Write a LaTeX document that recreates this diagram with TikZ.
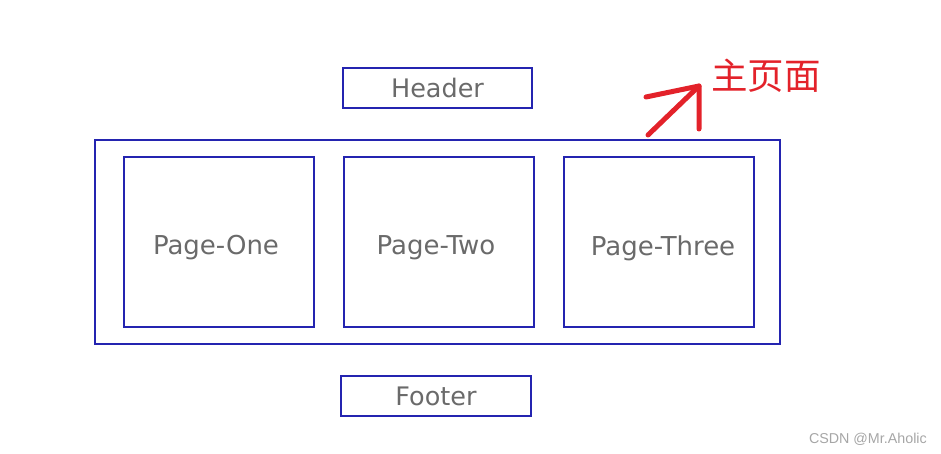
\documentclass[tikz,border=0pt]{standalone}
\usepackage{fontspec}
\setmainfont{DejaVu Sans}
\newfontfamily\cjk{Noto Sans CJK SC}
\newfontfamily\wm{Liberation Sans}
\definecolor{boxblue}{HTML}{2424B0}
\definecolor{txtgray}{HTML}{6A6A6A}
\definecolor{penred}{HTML}{E3222A}
\begin{document}
\begin{tikzpicture}[x=1pt,y=-1pt,
  bluebox/.style={draw=boxblue,line width=2.4pt,inner sep=0pt,text=txtgray,font=\fontsize{25.5}{28}\selectfont},
  pagetext/.style={inner sep=0pt,text=txtgray,font=\fontsize{26}{28}\selectfont},
  redpen/.style={draw=penred,line width=5pt,line cap=round,line join=round}]
\useasboundingbox (0,0) rectangle (941,454);
\node[bluebox,minimum width=189pt,minimum height=40pt] (header) at (437.5,88) {Header};
\node[bluebox,minimum width=685pt,minimum height=204pt] (outer) at (437.5,242) {};
\node[bluebox,minimum width=190pt,minimum height=170pt] (p1) at (219,242) {};
\node[bluebox,minimum width=190pt,minimum height=170pt] (p2) at (439,242) {};
\node[bluebox,minimum width=190pt,minimum height=170pt] (p3) at (659,242) {};
\node[pagetext] (t1) at ([xshift=-3pt,yshift=-6pt]p1.center) {Page-One};
\node[pagetext] (t2) at ([xshift=-3pt,yshift=-6pt]p2.center) {Page-Two};
\node[pagetext] (t3) at ([xshift=4pt,yshift=-6pt]p3.center) {Page-Three};
\node[bluebox,minimum width=190pt,minimum height=40pt] (footer) at (436,396) {Footer};
\coordinate (tail) at (648,135);
\coordinate (tip) at (699,86);
\coordinate (wl) at (646,97);
\coordinate (wr) at (699,129);
\draw[redpen] (tail) -- (tip);
\draw[redpen] (wl) -- (tip) -- (wr);
\node[text=penred,font=\cjk\fontsize{36.5}{40}\selectfont,anchor=west,inner sep=0pt] (label) at (711,76) {主页面};
\node[text=gray!70,font=\wm\fontsize{14.3}{16}\selectfont,anchor=east,inner sep=0pt] (wmk) at (927,439) {CSDN @Mr.Aholic};
\end{tikzpicture}
\end{document}
